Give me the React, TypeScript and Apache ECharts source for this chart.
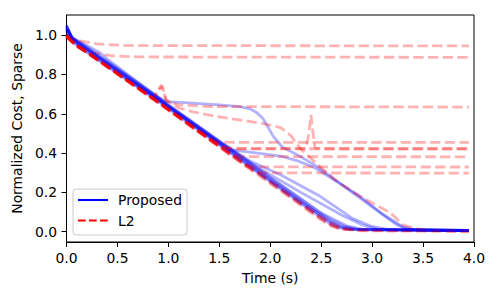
import React, { useEffect, useRef } from "react";
import * as echarts from "echarts";

// ---- Data: each run is a list of [time (s), normalized cost] pairs ----
const proposedRuns: number[][][] = [
  [[0, 1.05], [0.05, 0.99], [0.12, 0.95], [0.2, 0.925], [0.92, 0.665], [1.5, 0.45], [2.0, 0.265], [2.5, 0.08], [2.6, 0.045], [2.68, 0.025], [2.8, 0.012], [3.2, 0.007], [3.95, 0.005]],
  [[0, 1.03], [0.05, 0.975], [0.15, 0.935], [0.92, 0.655], [1.5, 0.44], [2.0, 0.255], [2.5, 0.07], [2.58, 0.042], [2.66, 0.022], [2.78, 0.01], [3.95, 0.005]],
  [[0, 1.045], [0.05, 0.99], [0.1, 0.975], [0.33, 0.91], [0.43, 0.866], [0.65, 0.78], [0.92, 0.675], [1.5, 0.46], [2.0, 0.275], [2.45, 0.11], [2.6, 0.06], [2.72, 0.03], [2.85, 0.013], [3.95, 0.006]],
  [[0, 1.04], [0.06, 0.985], [0.2, 0.935], [0.92, 0.675], [1.5, 0.462], [1.8, 0.36], [2.1, 0.29], [2.49, 0.18], [2.8, 0.07], [2.98, 0.03], [3.15, 0.012], [3.95, 0.006]],
  [[0, 1.03], [0.06, 0.98], [0.2, 0.93], [0.92, 0.67], [1.5, 0.455], [1.9, 0.32], [2.3, 0.2], [2.7, 0.085], [2.9, 0.035], [3.05, 0.012], [3.95, 0.005]],
  [[0, 1.04], [0.06, 0.985], [0.2, 0.94], [0.92, 0.68], [0.98, 0.662], [1.2, 0.655], [1.5, 0.645], [1.7, 0.636], [1.8, 0.625], [1.87, 0.605], [1.93, 0.575], [1.98, 0.53], [2.03, 0.485], [2.12, 0.43], [2.25, 0.395], [2.42, 0.345], [2.6, 0.28], [2.7, 0.24], [2.95, 0.145], [3.24, 0.036], [3.35, 0.012], [3.6, 0.006], [3.95, 0.005]],
  [[0, 1.03], [0.06, 0.98], [0.2, 0.93], [0.92, 0.665], [1.5, 0.45], [1.6, 0.418], [1.8, 0.405], [2.1, 0.385], [2.26, 0.362], [2.42, 0.33], [2.65, 0.256], [2.88, 0.18], [3.1, 0.09], [3.3, 0.025], [3.42, 0.01], [3.95, 0.005]],
  [[0, 1.02], [0.05, 0.97], [0.15, 0.93], [0.92, 0.66], [1.5, 0.445], [2.0, 0.26], [2.3, 0.15], [2.6, 0.05], [2.7, 0.025], [2.85, 0.012], [3.95, 0.006]],
  [[0, 1.05], [0.05, 0.985], [0.2, 0.93], [0.92, 0.668], [1.3, 0.53], [1.7, 0.385], [2.1, 0.24], [2.5, 0.095], [2.75, 0.03], [2.9, 0.013], [3.95, 0.006]],
];

const l2Runs: number[][][] = [
  [[0, 1.0], [0.1, 0.95], [0.2, 0.915], [0.92, 0.652], [1.5, 0.437], [2.0, 0.25], [2.5, 0.065], [2.6, 0.032], [2.7, 0.012], [2.9, 0.004], [3.95, 0.002]],
  [[0, 0.99], [0.1, 0.945], [0.2, 0.912], [0.92, 0.648], [1.5, 0.432], [2.0, 0.245], [2.5, 0.06], [2.58, 0.033], [2.68, 0.013], [3.95, 0.003]],
  [[0, 1.0], [0.1, 0.952], [0.2, 0.918], [0.92, 0.657], [1.5, 0.442], [2.0, 0.256], [2.5, 0.07], [2.62, 0.03], [2.75, 0.012], [3.95, 0.004]],
  [[0, 0.995], [0.1, 0.948], [0.2, 0.916], [0.92, 0.66], [1.5, 0.445], [2.0, 0.26], [2.45, 0.095], [2.6, 0.045], [2.72, 0.017], [2.9, 0.006], [3.95, 0.004]],
  [[0, 1.0], [0.06, 0.978], [0.3, 0.955], [0.6, 0.947], [3.95, 0.945]],
  [[0, 1.0], [0.1, 0.95], [0.25, 0.912], [0.45, 0.895], [0.7, 0.889], [3.95, 0.887]],
  [[0, 1.0], [0.1, 0.948], [0.2, 0.915], [0.85, 0.68], [0.89, 0.705], [0.93, 0.747], [0.98, 0.665], [1.1, 0.645], [1.4, 0.637], [3.95, 0.634]],
  [[0, 0.995], [0.1, 0.945], [0.2, 0.912], [0.85, 0.678], [0.9, 0.72], [0.94, 0.74], [0.98, 0.67], [1.1, 0.63], [1.24, 0.61], [1.47, 0.586], [1.9, 0.553], [2.1, 0.53], [2.2, 0.49], [2.3, 0.42], [2.47, 0.34], [2.63, 0.265], [2.88, 0.18], [3.18, 0.096], [3.3, 0.036], [3.42, 0.015], [3.6, 0.006], [3.95, 0.004]],
  [[0, 0.99], [0.1, 0.945], [0.2, 0.912], [0.92, 0.652], [1.4, 0.47], [1.5, 0.456], [1.7, 0.454], [3.95, 0.454]],
  [[0, 1.0], [0.1, 0.948], [0.2, 0.915], [0.92, 0.654], [1.45, 0.45], [1.57, 0.425], [1.7, 0.422], [3.95, 0.422]],
  [[0, 0.995], [0.1, 0.946], [0.2, 0.913], [0.92, 0.655], [1.5, 0.44], [1.62, 0.423], [2.35, 0.422], [2.38, 0.5], [2.4, 0.595], [2.42, 0.5], [2.44, 0.425], [2.5, 0.422], [3.95, 0.422]],
  [[0, 0.99], [0.1, 0.944], [0.2, 0.911], [0.92, 0.65], [1.6, 0.395], [1.72, 0.382], [3.95, 0.381]],
  [[0, 1.0], [0.1, 0.947], [0.2, 0.914], [0.92, 0.651], [1.5, 0.435], [1.76, 0.335], [1.85, 0.33], [3.95, 0.329]],
  [[0, 0.995], [0.1, 0.945], [0.2, 0.912], [0.92, 0.649], [1.5, 0.433], [1.84, 0.305], [1.94, 0.299], [3.95, 0.298]],
];

const xTicks = [0, 0.5, 1.0, 1.5, 2.0, 2.5, 3.0, 3.5, 4.0];
const yTicks = [0, 0.2, 0.4, 0.6, 0.8, 1.0];
const legendNames = ["Proposed", "L2"];

const FONT = "DejaVu Sans";

export default function App() {
  const ref = useRef<HTMLDivElement>(null);
  useEffect(() => {
    if (!ref.current) return;
    const chart = echarts.init(ref.current, null, { renderer: "svg" });

    const series: any[] = [];
    const n = Math.max(proposedRuns.length, l2Runs.length);
    for (let i = 0; i < n; i++) {
      if (i < l2Runs.length) {
        series.push({
          type: "line",
          name: "L2",
          data: l2Runs[i],
          showSymbol: false,
          symbol: "none",
          silent: true,
          lineStyle: { color: "#ff0000", width: 2.8, opacity: 0.3, type: [10.3, 4.4] },
          emphasis: { disabled: true },
        });
      }
      if (i < proposedRuns.length) {
        series.push({
          type: "line",
          name: "Proposed",
          data: proposedRuns[i],
          showSymbol: false,
          symbol: "none",
          silent: true,
          lineStyle: { color: "#0000ff", width: 2.8, opacity: 0.3, type: "solid" },
          emphasis: { disabled: true },
        });
      }
    }

    const textStyle = { fontFamily: FONT, fontSize: 13.9, color: "#000" };

    chart.setOption({
      animation: false,
      grid: {
        left: 66.5,
        top: 15,
        width: 407.5,
        height: 227,
        show: true,
        borderColor: "#000",
        borderWidth: 1,
        backgroundColor: "transparent",
      },
      xAxis: {
        type: "value",
        min: 0,
        max: 4,
        interval: 0.5,
        name: "Time (s)",
        nameLocation: "middle",
        nameGap: 29,
        nameTextStyle: textStyle,
        axisLine: { onZero: false, lineStyle: { color: "#000", width: 1 } },
        axisTick: { show: true, inside: false, length: 5, lineStyle: { color: "#000", width: 1 }, customValues: xTicks },
        axisLabel: { ...textStyle, margin: 9, customValues: xTicks, formatter: (v: number) => v.toFixed(1) },
        splitLine: { show: false },
      },
      yAxis: {
        type: "value",
        min: -0.0525,
        max: 1.1025,
        name: "Normalized Cost, Sparse",
        nameLocation: "middle",
        nameGap: 39,
        nameTextStyle: textStyle,
        axisLine: { onZero: false, lineStyle: { color: "#000", width: 1 } },
        axisTick: { show: true, inside: false, length: 5, lineStyle: { color: "#000", width: 1 }, customValues: yTicks },
        axisLabel: { ...textStyle, margin: 9.5, customValues: yTicks, formatter: (v: number) => v.toFixed(1) },
        splitLine: { show: false },
      },
      series,
      graphic: [
        {
          type: "group",
          z: 100,
          children: [
            {
              type: "rect",
              shape: { x: 73, y: 189, width: 114, height: 46, r: 3 },
              style: { fill: "rgba(255,255,255,0.8)", stroke: "#cccccc", lineWidth: 1 },
            },
            {
              type: "line",
              shape: { x1: 78, y1: 200, x2: 108, y2: 200 },
              style: { stroke: "#0000ff", lineWidth: 2.1 },
            },
            {
              type: "line",
              shape: { x1: 78, y1: 220.5, x2: 108, y2: 220.5 },
              style: { stroke: "#ff0000", lineWidth: 2.1, lineDash: [7.7, 3.3] },
            },
            {
              type: "text",
              x: 118,
              y: 200,
              style: { text: legendNames[0], fontFamily: FONT, fontSize: 13.9, fill: "#000", verticalAlign: "middle" },
            },
            {
              type: "text",
              x: 118,
              y: 220.5,
              style: { text: legendNames[1], fontFamily: FONT, fontSize: 13.9, fill: "#000", verticalAlign: "middle" },
            },
          ],
        },
      ],
    });

    return () => chart.dispose();
  }, []);

  return (
    <div
      ref={ref}
      style={{ position: "fixed", left: 0, top: 0, width: 500, height: 300, background: "#fff" }}
    />
  );
}
